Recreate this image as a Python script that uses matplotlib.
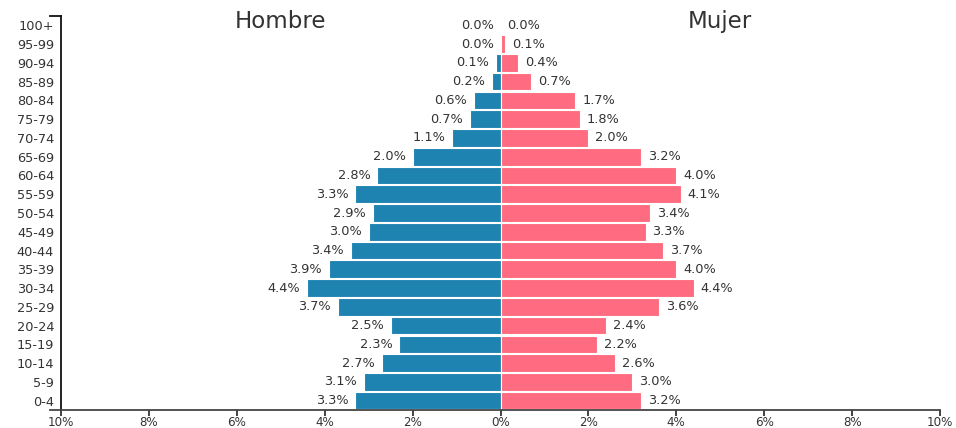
import matplotlib
matplotlib.use("Agg")
import matplotlib.pyplot as plt
import numpy as np

ages = ["0-4", "5-9", "10-14", "15-19", "20-24", "25-29", "30-34", "35-39", "40-44",
        "45-49", "50-54", "55-59", "60-64", "65-69", "70-74", "75-79", "80-84",
        "85-89", "90-94", "95-99", "100+"]
male = [3.3, 3.1, 2.7, 2.3, 2.5, 3.7, 4.4, 3.9, 3.4, 3.0, 2.9, 3.3, 2.8, 2.0, 1.1,
        0.7, 0.6, 0.2, 0.1, 0.0, 0.0]
female = [3.2, 3.0, 2.6, 2.2, 2.4, 3.6, 4.4, 4.0, 3.7, 3.3, 3.4, 4.1, 4.0, 3.2, 2.0,
          1.8, 1.7, 0.7, 0.4, 0.1, 0.0]
xticks = [-10, -8, -6, -4, -2, 0, 2, 4, 6, 8, 10]
xticklabels = ["10%", "8%", "6%", "4%", "2%", "0%", "2%", "4%", "6%", "8%", "10%"]

BLUE = "#1f83b1"
PINK = "#ff6b81"
TXT = "#333333"
FS = 9.3

plt.rcParams['font.family'] = ['DejaVu Sans']

fig = plt.figure(figsize=(9.56, 4.28), dpi=100)
ax = fig.add_axes([61/956, 18/428, 879/956, 394/428])

y = np.arange(len(ages))
ax.barh(y, [-v for v in male], height=0.94, color=BLUE, edgecolor="white", linewidth=0.8)
ax.barh(y, female, height=0.94, color=PINK, edgecolor="white", linewidth=0.8)

for yi, m, f in zip(y, male, female):
    ax.annotate(f"{m:.1f}%", (-m, yi), xytext=(-5, 0), textcoords="offset points",
                ha="right", va="center", fontsize=FS, color=TXT)
    ax.annotate(f"{f:.1f}%", (f, yi), xytext=(5, 0), textcoords="offset points",
                ha="left", va="center", fontsize=FS, color=TXT)

ax.set_xlim(-10, 10)
ax.set_ylim(-0.5, len(ages) - 0.5)
ax.set_xticks(xticks)
ax.set_xticklabels(xticklabels, fontsize=8.6, color=TXT)
ax.set_yticks(y)
ax.set_yticklabels(ages, fontsize=FS, color=TXT)
ax.tick_params(axis="y", length=0, pad=5)
ax.tick_params(axis="x", length=4, width=1.2, color="#222222", pad=0)

for s in ["top", "right"]:
    ax.spines[s].set_visible(False)
ax.spines["left"].set_color("#111111")
ax.spines["left"].set_linewidth(1.3)
ax.spines["bottom"].set_color("#444444")
ax.spines["bottom"].set_linewidth(1.3)
ax.spines["bottom"].set_bounds(-10.25, 10)

# outer tick at top of y axis
ax.plot([-10.25, -10], [len(ages) - 0.5, len(ages) - 0.5], color="#111111",
        lw=1.3, clip_on=False)

ax.text(-5, 20.2, "Hombre", ha="center", va="center", fontsize=16.5, color=TXT)
ax.text(5, 20.2, "Mujer", ha="center", va="center", fontsize=16.5, color=TXT)

fig.savefig("out.png", dpi=100)
